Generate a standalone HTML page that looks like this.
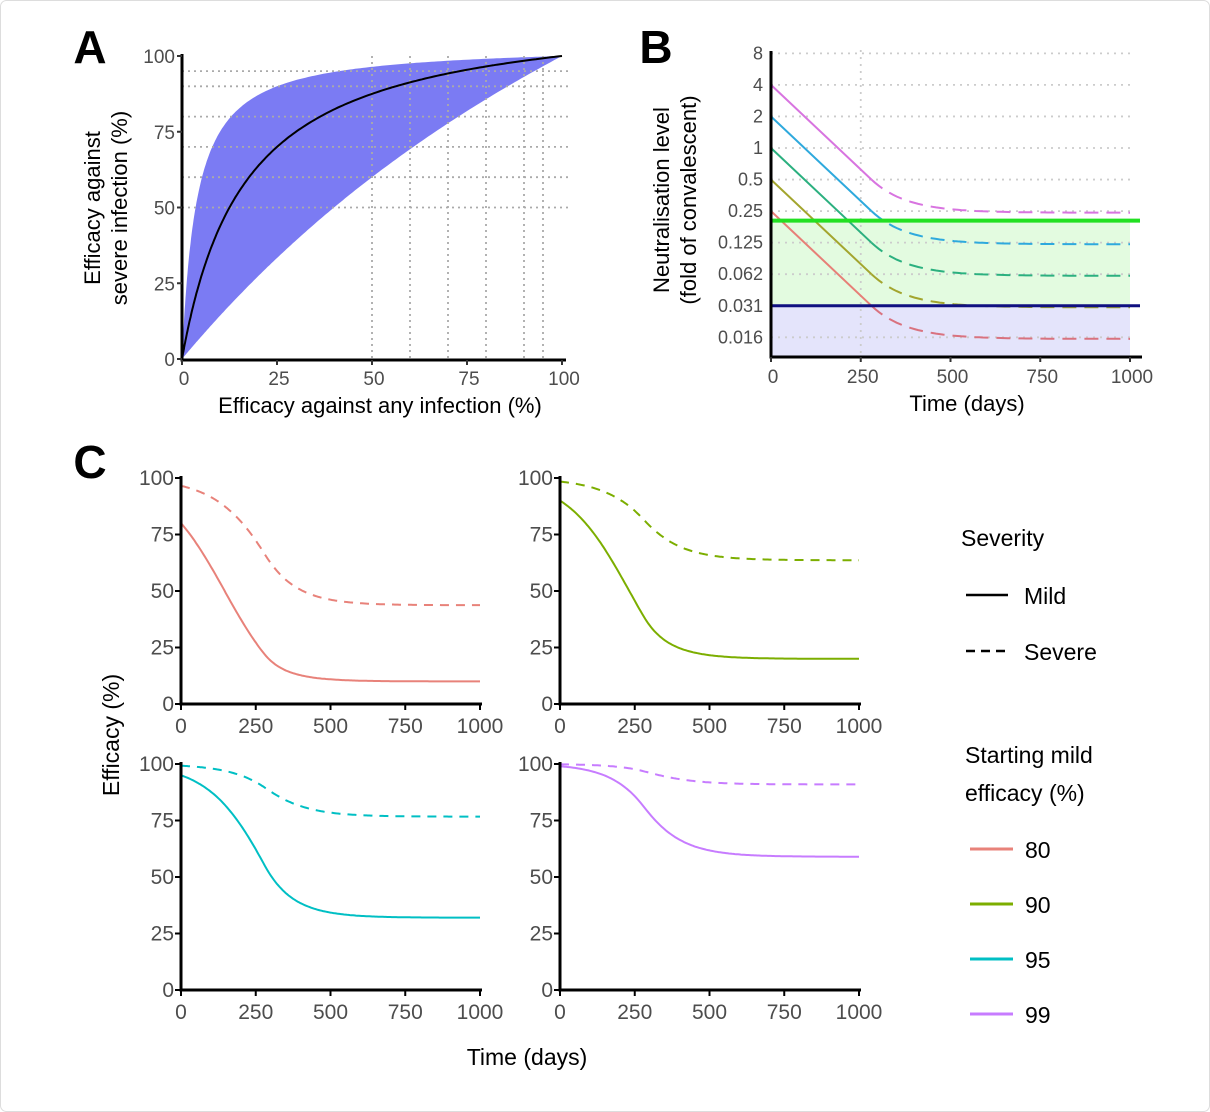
<!DOCTYPE html>
<html><head><meta charset="utf-8"><style>
html,body{margin:0;padding:0;background:#fff}
svg{display:block;font-family:"Liberation Sans",sans-serif}
</style></head><body>
<svg id="s" width="1210" height="1112" viewBox="0 0 1210 1112" xmlns="http://www.w3.org/2000/svg">
<rect x="0.5" y="0.5" width="1209" height="1111" rx="6" fill="#fff" stroke="#ddd"/>
</svg>
<script>
const S=document.getElementById('s');let h='';
function P(pts){return pts.map((p,i)=>(i?'L':'M')+p[0].toFixed(1)+' '+p[1].toFixed(1)).join('');}
function T(x,y,t,o){o=o||{};h+=`<text x="${x}" y="${y}" font-size="${o.fs||17}" fill="${o.c||'#4d4d4d'}" text-anchor="${o.a||'middle'}" ${o.w?'font-weight="bold"':''} ${o.r?`transform="rotate(-90 ${x} ${y})"`:''}>${t}</text>`;}
// ---------- Panel A
const ax=v=>182+v*3.8, ay=v=>359-v*3.03;
T(90,63,'A',{fs:46,w:1,c:'#000'});
let up=[],lo=[],mid=[];
for(let i=0;i<=200;i++){let m=Math.pow(i/200,2);let f=c=>c*m/(1+(c-1)*m)*100;up.push([ax(m*100),ay(f(27))]);lo.push([ax(m*100),ay(f(1.5))]);mid.push([ax(m*100),ay(f(7))]);}
h+=`<path d="${P(up)}${P(lo.reverse()).replace('M','L')}Z" fill="#7b7bf3"/>`;
[50,60,70,80,90,95].forEach(v=>{h+=`<line x1="${ax(v)}" y1="56" x2="${ax(v)}" y2="359" stroke="#aaa" stroke-width="1.8" stroke-dasharray="2,4"/>`;h+=`<line x1="182" y1="${ay(v)}" x2="568" y2="${ay(v)}" stroke="#aaa" stroke-width="1.8" stroke-dasharray="2,4"/>`;});
h+=`<path d="${P(mid)}" fill="none" stroke="#000" stroke-width="2"/>`;
h+=`<path d="M182 54V360H566" fill="none" stroke="#000" stroke-width="3"/>`;
[0,25,50,75,100].forEach(v=>{h+=`<line x1="${ax(v)}" y1="360" x2="${ax(v)}" y2="365" stroke="#333" stroke-width="2"/><line x1="177" y1="${ay(v)}" x2="182" y2="${ay(v)}" stroke="#333" stroke-width="2"/>`;T(ax(v)+2,385,v,{fs:19});T(175,ay(v)+7,v,{a:'end',fs:19});});
T(380,413,'Efficacy against any infection (%)',{fs:22,c:'#000'});
T(100,208,'Efficacy against',{fs:22,c:'#000',r:1});T(127,208,'severe infection (%)',{fs:22,c:'#000',r:1});
// ---------- Panel B
const bx=t=>771+t*0.359, by=L=>148-31.55*L;
T(656,63,'B',{fs:46,w:1,c:'#000'});
h+=`<rect x="771" y="${by(-2.3)}" width="359" height="${by(-5)-by(-2.3)}" fill="#e3fbe0"/>`;
h+=`<rect x="771" y="${by(-5)}" width="359" height="${357-by(-5)}" fill="#e4e4fb"/>`;
const lab=['8','4','2','1','0.5','0.25','0.125','0.062','0.031','0.016'];
lab.forEach((l,i)=>{let y=by(3-i);h+=`<line x1="771" y1="${y}" x2="1135" y2="${y}" stroke="#ccc" stroke-width="1.8" stroke-dasharray="2,5"/>`;T(763,y+6,l,{a:'end',fs:18});});
h+=`<line x1="${bx(250)}" y1="50" x2="${bx(250)}" y2="357" stroke="#ccc" stroke-width="1.8" stroke-dasharray="2,5"/>`;
const bc=['#e77f77','#a3a52e','#2bb07f','#2ea9dd','#d874e0'];
const bcd=['#d9727f','#a3a52e','#2bb07f','#2ea9dd','#d874e0'];
for(let k=0;k<5;k++){let L0=k-2;let s=[[bx(0),by(L0)],[bx(280),by(L0-3)]];let d=[];for(let t=280;t<=1000;t+=10){d.push([bx(t),by(L0-3-1.05*(1-Math.exp(-(t-280)/98)))]);}
h+=`<path d="${P(s)}" fill="none" stroke="${bc[k]}" stroke-width="2"/><path d="${P(d)}" fill="none" stroke="${bcd[k]}" stroke-width="2" stroke-dasharray="14,8"/>`;}
h+=`<line x1="771" y1="${by(-2.3)}" x2="1140" y2="${by(-2.3)}" stroke="#22e022" stroke-width="4"/>`;
h+=`<line x1="771" y1="${by(-5)}" x2="1140" y2="${by(-5)}" stroke="#101080" stroke-width="3"/>`;
h+=`<path d="M771 51V357H1142" fill="none" stroke="#000" stroke-width="3"/>`;
[0,250,500,750,1000].forEach(t=>{h+=`<line x1="${bx(t)}" y1="357" x2="${bx(t)}" y2="362" stroke="#333" stroke-width="2"/>`;T(bx(t)+2,383,t,{fs:19});});
T(967,411,'Time (days)',{fs:22,c:'#000'});
T(669,200,'Neutralisation level',{fs:22,c:'#000',r:1});T(696,200,'(fold of convalescent)',{fs:22,c:'#000',r:1});
// ---------- Panel C
T(90,478,'C',{fs:46,w:1,c:'#000'});
const cc=['#e8827a','#7cae00','#00bfc4','#c77cff'];
const par=[[1.386,0.885],[2.197,0.885],[2.944,0.913],[4.595,1.045]];
const pos=[[181,704],[560,704],[181,990],[560,990]];
const D=t=>t<280?-3*t/280:-3-1.05*(1-Math.exp(-(t-280)/98));
for(let k=0;k<4;k++){let [x0,y0]=pos[k];let cx=t=>x0+t*0.299,cy=v=>y0-v*2.26;let m=[],sv=[];
for(let t=0;t<=1000;t+=5){let lg=par[k][0]+par[k][1]*D(t);let o=Math.exp(lg);m.push([cx(t),cy(o/(1+o)*100)]);let o2=o*7;sv.push([cx(t),cy(o2/(1+o2)*100)]);}
h+=`<path d="${P(m)}" fill="none" stroke="${cc[k]}" stroke-width="2"/><path d="${P(sv)}" fill="none" stroke="${cc[k]}" stroke-width="2" stroke-dasharray="9,7"/>`;
h+=`<path d="M${x0} ${y0-228}V${y0}H${cx(1000)+2}" fill="none" stroke="#000" stroke-width="3"/>`;
[0,250,500,750,1000].forEach(t=>{h+=`<line x1="${cx(t)}" y1="${y0}" x2="${cx(t)}" y2="${y0+6}" stroke="#000" stroke-width="2"/>`;T(cx(t),y0+29,t,{fs:21});});
[0,25,50,75,100].forEach(v=>{h+=`<line x1="${x0-6}" y1="${cy(v)}" x2="${x0}" y2="${cy(v)}" stroke="#000" stroke-width="2"/>`;T(x0-7,cy(v)+7,v,{fs:21,a:'end'});});}
T(527,1065,'Time (days)',{fs:23,c:'#000'});
T(119,735,'Efficacy (%)',{fs:23,c:'#000',r:1});
// legend
T(961,546,'Severity',{fs:23,c:'#000',a:'start'});
h+=`<line x1="966" y1="595" x2="1008" y2="595" stroke="#000" stroke-width="2.5"/><line x1="966" y1="651" x2="1008" y2="651" stroke="#000" stroke-width="2.5" stroke-dasharray="9,6"/>`;
T(1024,604,'Mild',{fs:23,c:'#000',a:'start'});T(1024,660,'Severe',{fs:23,c:'#000',a:'start'});
T(965,763,'Starting mild',{fs:23,c:'#000',a:'start'});T(965,801,'efficacy (%)',{fs:23,c:'#000',a:'start'});
['80','90','95','99'].forEach((l,i)=>{let y=849+i*55;h+=`<line x1="970" y1="${y}" x2="1013" y2="${y}" stroke="${cc[i]}" stroke-width="3"/>`;T(1025,y+9,l,{fs:23,c:'#000',a:'start'});});
S.insertAdjacentHTML('beforeend',h);
</script>
</body></html>
